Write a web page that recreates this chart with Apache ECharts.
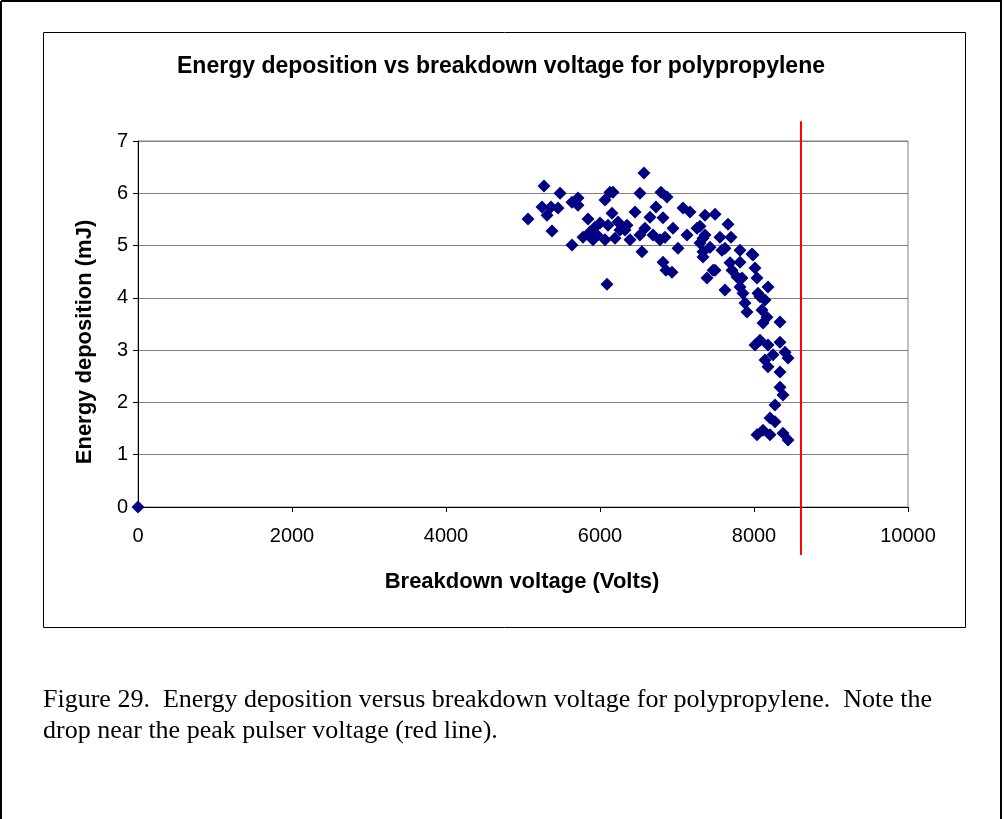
<!DOCTYPE html>
<html>
<head>
<meta charset="utf-8">
<script src="https://cdn.jsdelivr.net/npm/echarts@6/dist/echarts.min.js"></script>
<style>
  html, body { margin: 0; padding: 0; background: #fff; }
  #chart { width: 1005px; height: 819px; }
</style>
</head>
<body>
<div id="chart"></div>
<script>
// breakdown voltage (V)
const voltage = [
  0,
  5065, 5273, 5481, 5247, 5312, 5364, 5455, 5377, 5636, 5636,
  5714, 5714, 5844, 5779, 5935, 6000, 5961, 6065, 6104, 6130,
  6065, 6091, 6169, 6156, 6195, 6325, 6390, 6455, 6519, 6519,
  6571, 6649, 6688, 6779, 6792, 6870, 6818, 6545, 6818, 6857,
  6935, 6948, 7013, 7078, 7169, 6844, 7130, 7260, 7299, 7338,
  7338, 7364, 7494, 7662, 7364, 7558, 7701, 7429, 7338, 7623,
  7818, 7974, 7584, 7468, 7688, 7818, 8013, 7390, 7779, 7844,
  7623, 7818, 8039, 8182, 8052, 8143, 7883, 7857, 8078, 7909,
  8104, 8169, 8117, 8338, 8013, 8078, 8182, 8338, 8143, 8247,
  8403, 8442, 8182, 8338, 8338, 8377, 8273, 8208, 8273, 8039,
  8117, 8208, 8377, 8442, 7494, 7714, 7987, 5909, 6260, 5870,
  6234, 6351, 6584, 6727, 7299
]
// energy deposition (mJ)
const energy = [
  0,
  5.51, 6.14, 6.00, 5.74, 5.58, 5.74, 5.72, 5.28, 5.01, 5.83,
  5.91, 5.77, 5.51, 5.16, 5.35, 5.43, 5.20, 5.11, 5.39, 6.02,
  5.87, 4.26, 6.02, 5.62, 5.14, 5.30, 5.11, 5.64, 6.00, 5.20,
  6.39, 5.54, 5.20, 5.11, 6.02, 5.93, 5.53, 4.88, 4.68, 4.53,
  4.49, 5.33, 4.95, 5.72, 5.64, 5.16, 5.20, 5.33, 5.05, 5.14,
  4.78, 5.58, 5.60, 5.41, 5.20, 5.16, 5.16, 4.97, 4.88, 4.95,
  4.91, 4.84, 4.91, 4.53, 4.67, 4.68, 4.57, 4.38, 4.40, 4.38,
  4.15, 4.21, 4.38, 4.21, 4.09, 3.96, 3.90, 4.09, 4.02, 3.73,
  3.77, 3.63, 3.52, 3.54, 3.10, 3.19, 3.10, 3.15, 2.81, 2.91,
  2.96, 2.85, 2.68, 2.58, 2.29, 2.14, 1.95, 1.70, 1.63, 1.38,
  1.47, 1.38, 1.41, 1.28, 4.53, 4.53, 4.82, 5.11, 5.30, 5.26,
  5.45, 5.39, 5.33, 5.74, 5.37
]
// peak pulser voltage marker (red line)
const redLineX = [8610, 8610]
const redLineY = [7.38, -0.92]

const xTicks = [0, 2000, 4000, 6000, 8000, 10000]
const yTicks = [0, 1, 2, 3, 4, 5, 6, 7]

const chart = echarts.init(document.getElementById('chart'), null, {renderer: 'canvas'})

const points = voltage.map((v, i) => [v, energy[i]])
const redLine = redLineX.map((v, i) => [v, redLineY[i]])

const option = {
  animation: false,
  backgroundColor: '#fff',
  grid: {
    left: 138, top: 141, width: 770, height: 366,
    show: true, borderColor: '#808080', borderWidth: 1
  },
  xAxis: {
    type: 'value',
    min: xTicks[0], max: xTicks[xTicks.length - 1], interval: 2000,
    axisLine: {show: true, onZero: false, lineStyle: {color: '#000', width: 1}},
    axisTick: {show: true, inside: false, length: 5, lineStyle: {color: '#000'}},
    axisLabel: {color: '#000', fontFamily: 'Liberation Sans, Arial', fontSize: 20, margin: 19,
      formatter: v => String(v)},
    splitLine: {show: false}
  },
  yAxis: {
    type: 'value',
    min: yTicks[0], max: yTicks[yTicks.length - 1], interval: 1,
    axisLine: {show: true, onZero: false, lineStyle: {color: '#000', width: 1}},
    axisTick: {show: true, inside: false, length: 5, lineStyle: {color: '#000'}},
    axisLabel: {color: '#000', fontFamily: 'Liberation Sans, Arial', fontSize: 20, margin: 10},
    splitLine: {show: true, lineStyle: {color: '#808080', width: 1}}
  },
  graphic: [
    // page border
    {type: 'line', shape: {x1: 1, y1: 1, x2: 1002, y2: 1}, style: {stroke: '#000', lineWidth: 2}},
    {type: 'line', shape: {x1: 1, y1: 1, x2: 1, y2: 819}, style: {stroke: '#000', lineWidth: 2}},
    {type: 'line', shape: {x1: 1001, y1: 1, x2: 1001, y2: 819}, style: {stroke: '#000', lineWidth: 2}},
    // chart frame
    {type: 'rect', shape: {x: 43.5, y: 32.5, width: 922, height: 595},
      style: {fill: null, stroke: '#000', lineWidth: 1}, z: -1},
    {type: 'text', x: 501, y: 67,
      style: {text: 'Energy deposition vs breakdown voltage for polypropylene',
        font: 'bold 23px "Liberation Sans", Arial', fill: '#000', textAlign: 'center', textVerticalAlign: 'middle'}},
    {type: 'text', x: 522, y: 582,
      style: {text: 'Breakdown voltage (Volts)',
        font: 'bold 22px "Liberation Sans", Arial', fill: '#000', textAlign: 'center', textVerticalAlign: 'middle'}},
    {type: 'text', x: 85, y: 342, rotation: Math.PI / 2,
      style: {text: 'Energy deposition (mJ)',
        font: 'bold 22px "Liberation Sans", Arial', fill: '#000', textAlign: 'center', textVerticalAlign: 'middle'}},
    // caption
    {type: 'text', x: 43, y: 700,
      style: {text: 'Figure 29.  Energy deposition versus breakdown voltage for polypropylene.  Note the',
        font: '26px "Liberation Serif", "Times New Roman"', fill: '#000', textAlign: 'left', textVerticalAlign: 'middle'}},
    {type: 'text', x: 43, y: 731,
      style: {text: 'drop near the peak pulser voltage (red line).',
        font: '26px "Liberation Serif", "Times New Roman"', fill: '#000', textAlign: 'left', textVerticalAlign: 'middle'}}
  ],
  series: [
    {
      type: 'scatter',
      data: points,
      symbol: 'diamond',
      symbolSize: 13,
      itemStyle: {color: '#000080', opacity: 1},
      clip: false,
      z: 3
    },
    {
      type: 'line',
      data: redLine,
      symbol: 'none',
      clip: false,
      lineStyle: {color: '#ff0000', width: 2},
      z: 4
    }
  ]
}

chart.setOption(option)
</script>
</body>
</html>
